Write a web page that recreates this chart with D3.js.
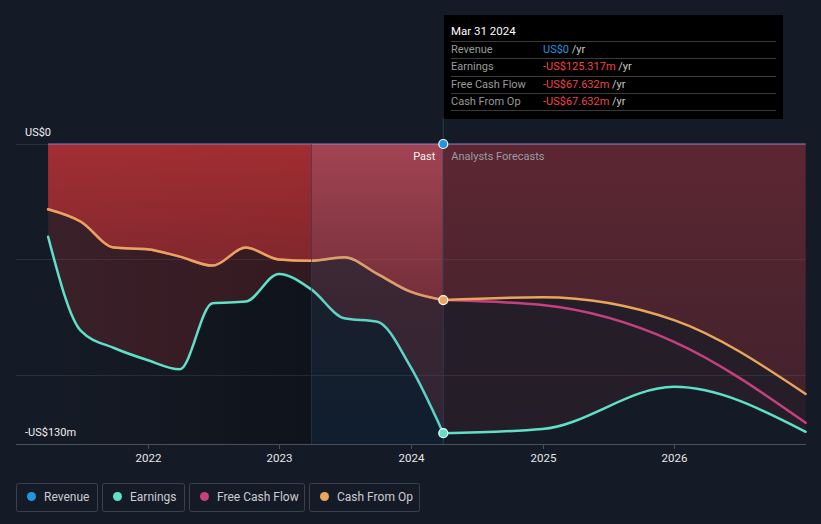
<!DOCTYPE html>
<html><head><meta charset="utf-8">
<script src="https://cdn.jsdelivr.net/npm/d3@7"></script>
<style>
html,body{margin:0;padding:0;background:#151b26;}
svg{display:block;font-family:Roboto,"Noto Sans",sans-serif;}
</style></head>
<body><svg id="c" width="821" height="524"></svg>
<script>
const pastDates = ["2021-03-31","2021-06-30","2021-09-30","2021-12-31","2022-03-31","2022-06-30","2022-09-30","2022-12-31","2023-03-31","2023-06-30","2023-09-30","2023-12-31","2024-03-31"];
const pastRevenue = [0,0,0,0,0,0,0,0,0,0,0,0,0];
const pastEarnings = [-40.2,-81,-88.4,-93.6,-97.6,-69,-68.3,-56.3,-63,-75.5,-77,-96.5,-125.317];
const pastFCF = [-28.3,-33.7,-44.9,-45.6,-48.8,-52.7,-44.9,-50,-50.6,-49.1,-56.3,-64,-67.632];
const pastCFO = [-28.3,-33.7,-44.9,-45.6,-48.8,-52.7,-44.9,-50,-50.6,-49.1,-56.3,-64,-67.632];
const fcDates = ["2024-03-31","2024-12-31","2025-12-31","2026-12-31"];
const fcRevenue = [0,0,0,0];
const fcEarnings = [-125.317,-123.5,-105.2,-124.7];
const fcFCF = [-67.632,-69.8,-85.7,-120.8];
const fcCFO = [-67.632,-66.4,-76.3,-108.3];
const yearTicks = ["2022","2023","2024","2025","2026"];
const yLabels = ["US$0","-US$130m"];
const legendNames = ["Revenue","Earnings","Free Cash Flow","Cash From Op"];
const colors = {rev:"#2394df", earn:"#5fe0c8", fcf:"#c4407f", cfo:"#e9a65a"};

const parse = d3.timeParse("%Y-%m-%d");
const svg = d3.select("#c");
const x = d3.scaleTime().domain([parse("2021-01-01"), parse("2027-01-01")]).range([16, 806]);
const y = d3.scaleLinear().domain([-130, 0]).range([444, 144]);
const pastEnd = x(parse("2024-03-31"));
const bandStart = x(parse("2023-03-31"));
const dataStart = x(parse(pastDates[0]));

const mk = (dates, vals) => dates.map((d,i)=>({t:parse(d), v:vals[i]}));
const P = {rev:mk(pastDates,pastRevenue), earn:mk(pastDates,pastEarnings), fcf:mk(pastDates,pastFCF), cfo:mk(pastDates,pastCFO)};
const F = {rev:mk(fcDates,fcRevenue), earn:mk(fcDates,fcEarnings), fcf:mk(fcDates,fcFCF), cfo:mk(fcDates,fcCFO)};

const defs = svg.append("defs");
function lg(id, x1,y1,x2,y2, stops){
  const g = defs.append("linearGradient").attr("id",id).attr("gradientUnits","userSpaceOnUse")
    .attr("x1",x1).attr("y1",y1).attr("x2",x2).attr("y2",y2);
  stops.forEach(s=>g.append("stop").attr("offset",s[0]).attr("stop-color",s[1]).attr("stop-opacity",s[2]));
}
lg("darkH", dataStart,0,bandStart,0, [[0,"#000",0],[1,"#000",0.3]]);
lg("cfoPast", 0,144,0,310, [[0,"#c03236",0.78],[1,"#c03236",0.45]]);
lg("cfoFc", 0,144,0,400, [[0,"#a8343f",0.42],[1,"#a8343f",0.22]]);
lg("band", 0,144,0,444, [[0,"#a6a0d8",0.2],[0.5,"#6a80b8",0.12],[1,"#1e78c8",0.12]]);

// past darker region
svg.append("rect").attr("x",dataStart).attr("y",144).attr("width",bandStart-dataStart).attr("height",300).attr("fill","url(#darkH)");
svg.append("rect").attr("x",bandStart).attr("y",144).attr("width",pastEnd-bandStart).attr("height",300).attr("fill","#000").attr("opacity",0.3);

// gridlines
[0,-50,-100].forEach(v=>{
  svg.append("line").attr("x1",16).attr("x2",806).attr("y1",Math.round(y(v))+0.5).attr("y2",Math.round(y(v))+0.5)
    .attr("stroke","#ffffff").attr("stroke-opacity",0.09);
});

const area = d3.area().curve(d3.curveMonotoneX).x(d=>x(d.t)).y0(y(0)).y1(d=>y(d.v));
const line = d3.line().curve(d3.curveMonotoneX).x(d=>x(d.t)).y(d=>y(d.v));

// areas
svg.append("path").attr("d",area(P.earn)).attr("fill","#be3237").attr("fill-opacity",0.22);
svg.append("path").attr("d",area(P.cfo)).attr("fill","url(#cfoPast)");
svg.append("path").attr("d",area(F.earn)).attr("fill","#be3237").attr("fill-opacity",0.1);
svg.append("path").attr("d",area(F.cfo)).attr("fill","url(#cfoFc)");

// axis
const ax = svg.append("g").attr("transform","translate(0,444)");
ax.append("line").attr("x1",16).attr("x2",806).attr("y1",0.5).attr("y2",0.5).attr("stroke","#4a505a").attr("stroke-width",1);
yearTicks.forEach(s=>{
  const xx = Math.round(x(parse(s+"-01-01")))+0.5;
  ax.append("line").attr("x1",xx).attr("x2",xx).attr("y1",0).attr("y2",5).attr("stroke","#4a505a");
  ax.append("text").attr("x",xx).attr("y",17.5).attr("text-anchor","middle").attr("fill","#e6e6e6")
    .attr("font-size",11.5).text(s);
});

// lines
function drawLine(data, col, w){ svg.append("path").attr("d",line(data)).attr("fill","none").attr("stroke",col).attr("stroke-width",w).attr("stroke-linecap","round"); }
drawLine(P.fcf, colors.fcf, 2.5);
drawLine(P.cfo, colors.cfo, 2.5);
drawLine(P.earn, colors.earn, 2.5);
drawLine(F.earn, colors.earn, 2.5);
drawLine(F.fcf, colors.fcf, 2.5);
drawLine(F.cfo, colors.cfo, 2.5);
svg.append("path").attr("d",line(P.rev.concat(F.rev.slice(1)))).attr("fill","none").attr("stroke","#8a78c0").attr("stroke-opacity",0.7).attr("stroke-width",1.5);

// band overlay (last 12 months)
svg.append("rect").attr("x",bandStart).attr("y",144).attr("width",pastEnd-bandStart).attr("height",300).attr("fill","url(#band)");
svg.append("line").attr("x1",Math.round(bandStart)+0.5).attr("x2",Math.round(bandStart)+0.5).attr("y1",144).attr("y2",444).attr("stroke","#2a3a52").attr("stroke-opacity",0.6);

// present vertical line
svg.append("line").attr("x1",pastEnd).attr("x2",pastEnd).attr("y1",118).attr("y2",444).attr("stroke","#2b3b55").attr("stroke-width",1);

// labels
svg.append("text").attr("x",25).attr("y",136).attr("fill","#f0f0f0").attr("font-size",11).text(yLabels[0]);
svg.append("text").attr("x",25).attr("y",436).attr("fill","#f0f0f0").attr("font-size",11).text(yLabels[1]);
svg.append("text").attr("x",pastEnd-8).attr("y",160).attr("text-anchor","end").attr("fill","#f2f2f2").attr("font-size",11).text("Past");
svg.append("text").attr("x",pastEnd+8).attr("y",160).attr("fill","#9a9ca4").attr("font-size",11).text("Analysts Forecasts");

// dots
[[P.rev, colors.rev],[P.cfo, colors.cfo],[P.earn, colors.earn]].forEach(([d,c])=>{
  const last = d[d.length-1];
  svg.append("circle").attr("cx",x(last.t)).attr("cy",y(last.v)).attr("r",4.5).attr("fill",c).attr("stroke","#fff").attr("stroke-width",1.2);
});

// tooltip
const tt = svg.append("g");
tt.append("rect").attr("x",444).attr("y",15).attr("width",339).attr("height",104).attr("fill","#000");
tt.append("text").attr("x",451).attr("y",35).attr("fill","#fff").attr("font-size",11.5).text("Mar 31 2024");
const rows = [["Revenue","US$0",colors.rev],["Earnings","-US$125.317m","#f0434a"],["Free Cash Flow","-US$67.632m","#f0434a"],["Cash From Op","-US$67.632m","#f0434a"]];
[41,58,76,93,110].forEach(yy=>tt.append("line").attr("x1",451).attr("x2",776).attr("y1",yy+0.5).attr("y2",yy+0.5).attr("stroke","#3a3a3a"));
rows.forEach((r,i)=>{
  const yy = 53 + i*17.4;
  tt.append("text").attr("x",451).attr("y",yy).attr("fill","#9a9a9a").attr("font-size",11).text(r[0]);
  const t = tt.append("text").attr("x",543).attr("y",yy).attr("font-size",11);
  t.append("tspan").attr("fill",r[2]).text(r[1]);
  t.append("tspan").attr("fill","#c8c8c8").text(" /yr");
});

// legend
const legX = [16,102,189,309], legW = [81,82,115,110], legC = [colors.rev,colors.earn,colors.fcf,colors.cfo];
legendNames.forEach((n,i)=>{
  const g = svg.append("g").attr("transform",`translate(${legX[i]},483)`);
  g.append("rect").attr("x",0.5).attr("y",0.5).attr("width",legW[i]).attr("height",28).attr("rx",2).attr("fill","none").attr("stroke","#3a404c");
  g.append("circle").attr("cx",15.5).attr("cy",13.5).attr("r",4.5).attr("fill",legC[i]);
  g.append("text").attr("x",28).attr("y",17.5).attr("fill","#c9ccd1").attr("font-size",12).text(n);
});
</script></body></html>
